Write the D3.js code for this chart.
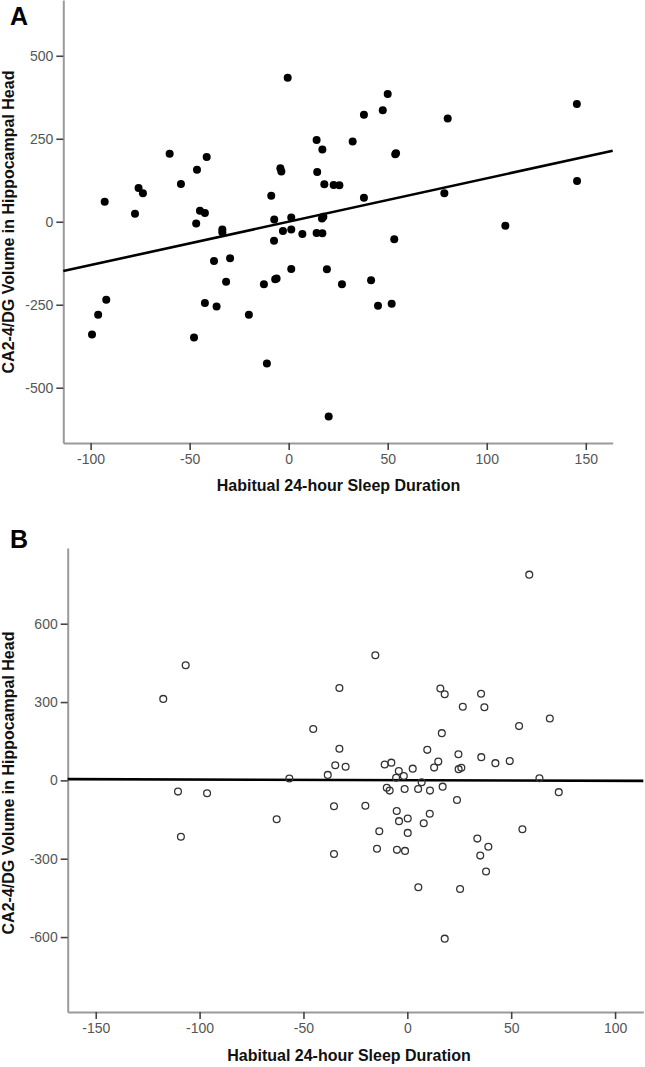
<!DOCTYPE html>
<html>
<head>
<meta charset="utf-8">
<script src="https://cdn.jsdelivr.net/npm/d3@7"></script>
<style>
  html, body { margin: 0; padding: 0; background: #fff; }
  svg { display: block; font-family: "Liberation Sans", Arial, sans-serif; }
</style>
</head>
<body>
<svg id="chart" width="645" height="1067"></svg>
<script>
// ---------- DATA ----------
// Panel A: habitual 24-hour sleep duration vs CA2-4/DG volume (filled dots)
const aSleep = [-92.9,-77.6,-75.8,-73.6,-60.1,-54.4,-46.3,-41.4,-44.8,-42.3,-46.7,-33.5,-33.5,-0.5,-8.8,-4.2,-3.7,-7.3,1.3,-2.9,1.3,6.9,-7.4,14.1,17.0,14.4,18.0,22.7,25.6,38.0,32.3,47.5,50.0,53.8,54.2,38.0,80.3,78.6,109.4,145.5,145.6,16.8,17.5,14.1,17.0,53.3,-37.7,-29.6,-31.6,-12.5,-6.8,-6.1,1.3,-92.1,-96.2,-99.3,-42.3,-36.4,-20.1,-47.8,-11.0,19.3,26.9,41.6,45.1,52.0,20.2];
const aVolume = [60,24,102,86,205,114,157,195,33,26,-5,-23,-32,434,78,161,151,7,13,-28,-23,-37,-57,246,218,150,113,111,110,322,242,336,385,203,206,72,311,86,-12,355,123,10,15,-34,-35,-53,-118,-110,-181,-188,-173,-171,-142,-235,-280,-340,-245,-255,-280,-349,-427,-143,-188,-176,-253,-247,-587];
const aFitX = [-113.8, 163.6];
const aFitY = [-148.5, 213.9];
const aXTicks = [-100, -50, 0, 50, 100, 150];
const aYTicks = [-500, -250, 0, 250, 500];

// Panel B: (hollow circles)
const bSleep = [-117.5,-106.7,-45.3,-56.8,-110.4,-96.4,58.7,-15.4,-32.7,15.9,18.0,35.5,26.7,37.1,68.6,53.8,16.6,-32.7,9.6,24.6,35.6,42.4,49.3,-34.7,-29.7,-38.3,-10.9,-7.7,-4.1,-5.4,-1.7,2.6,12.9,14.9,24.7,26.0,6.9,63.6,72.9,-9.9,-8.5,-1.3,5.2,10.9,17.0,23.9,-35.3,-20.2,-5.1,-4.0,0.2,10.8,7.9,-13.5,0.2,55.4,33.7,39.0,-35.3,-14.6,-5.0,-1.1,35.1,37.9,5.3,25.4,18.0,-109.0,-62.9];
const bVolume = [312,441,197,7,-43,-49,788,479,354,352,330,332,282,280,237,208,181,121,117,100,89,66,74,58,52,21,61,68,36,10,17,45,49,72,43,48,-7,8,-45,-28,-39,-33,-33,-39,-24,-75,-99,-97,-117,-156,-146,-128,-164,-195,-201,-187,-223,-254,-282,-262,-266,-270,-288,-349,-409,-416,-606,-216,-149];
const bFitX = [-163.5, 113.6];
const bFitY = [5, -2];
const bXTicks = [-150, -100, -50, 0, 50, 100];
const bYTicks = [-600, -300, 0, 300, 600];

const xTitle = "Habitual 24-hour Sleep Duration";
const yTitle = "CA2-4/DG Volume in Hippocampal Head";

// ---------- DRAW ----------
const svg = d3.select("#chart");

function panel(cfg) {
  const x = d3.scaleLinear().domain(cfg.xDomain).range(cfg.xRange);
  const y = d3.scaleLinear().domain(cfg.yDomain).range(cfg.yRange);
  const g = svg.append("g");

  // axes
  const xAxis = d3.axisBottom(x).tickValues(cfg.xTicks).tickSize(7).tickSizeOuter(0).tickPadding(4)
    .tickFormat(d3.format("d"));
  const yAxis = d3.axisLeft(y).tickValues(cfg.yTicks).tickSize(7).tickSizeOuter(0).tickPadding(3)
    .tickFormat(d3.format("d"));

  const gx = g.append("g").attr("transform", `translate(0,${cfg.yRange[0]})`).call(xAxis);
  const gy = g.append("g").attr("transform", `translate(${cfg.xRange[0]},0)`).call(yAxis);
  [gx, gy].forEach(a => {
    a.select(".domain").attr("stroke", "#9a9a9a").attr("stroke-width", 2);
    a.selectAll(".tick line").attr("stroke", "#444").attr("stroke-width", 1.6);
    a.selectAll(".tick text").attr("fill", "#555").style("font-size", "14px")
      .style("font-family", "'Liberation Sans', Arial, sans-serif");
  });
  gx.selectAll(".tick text").text(d => d < 0 ? "-" + Math.abs(d) : d);
  gy.selectAll(".tick text").text(d => d < 0 ? "-" + Math.abs(d) : d);

  // fit line
  const line = d3.line().x(d => x(d[0])).y(d => y(d[1]));
  g.append("path")
    .datum(cfg.fitX.map((v, i) => [v, cfg.fitY[i]]))
    .attr("d", line).attr("fill", "none").attr("stroke", "#000").attr("stroke-width", 2.6);

  // points
  g.append("g").selectAll("circle")
    .data(cfg.xs.map((v, i) => [v, cfg.ys[i]]))
    .join("circle")
    .attr("cx", d => x(d[0])).attr("cy", d => y(d[1]))
    .attr("r", cfg.filled ? 4 : 3.4)
    .attr("fill", cfg.filled ? "#000" : "none")
    .attr("stroke", cfg.filled ? "none" : "#333")
    .attr("stroke-width", 1.3);

  // titles
  g.append("text").attr("x", cfg.xTitleX).attr("y", cfg.xTitleY)
    .attr("text-anchor", "middle").style("font-weight", "bold").style("font-size", "16px")
    .attr("fill", "#111").text(xTitle);
  g.append("text").attr("transform", `translate(14,${cfg.yTitleY}) rotate(-90)`)
    .attr("text-anchor", "middle").style("font-weight", "bold").style("font-size", "16px")
    .attr("fill", "#111").text(yTitle);
  g.append("text").attr("x", 10).attr("y", cfg.letterY)
    .style("font-weight", "bold").style("font-size", "25px").attr("fill", "#000").text(cfg.letter);
}

panel({
  xDomain: [-113.8, 163.6], xRange: [63.3, 612.7],
  yDomain: [-666.5, 668], yRange: [443, 0],
  xTicks: aXTicks, yTicks: aYTicks,
  xs: aSleep, ys: aVolume, fitX: aFitX, fitY: aFitY, filled: true,
  xTitleX: 338.5, xTitleY: 491, yTitleY: 222, letter: "A", letterY: 25
});

panel({
  xDomain: [-163.5, 113.6], xRange: [67.7, 643.3],
  yDomain: [-887, 890], yRange: [1012, 548],
  xTicks: bXTicks, yTicks: bYTicks,
  xs: bSleep, ys: bVolume, fitX: bFitX, fitY: bFitY, filled: false,
  xTitleX: 349, xTitleY: 1061, yTitleY: 783, letter: "B", letterY: 548
});
</script>
</body>
</html>
